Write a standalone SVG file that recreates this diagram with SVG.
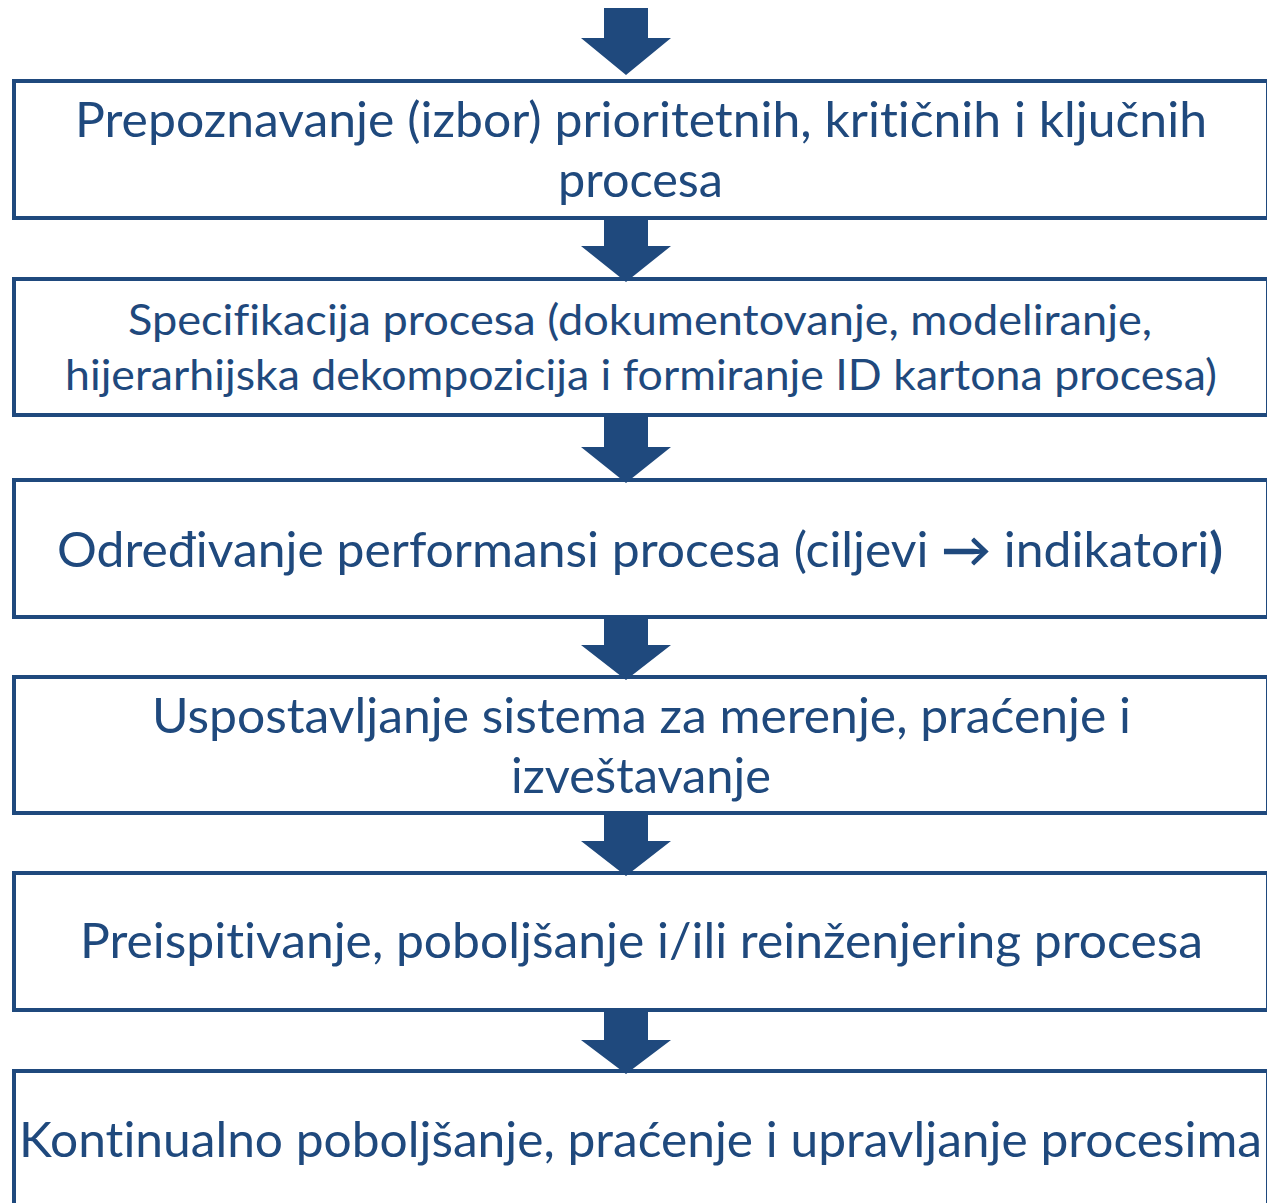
<svg xmlns="http://www.w3.org/2000/svg" width="1267" height="1203" viewBox="0 0 1267 1203">
<style>
.box{fill:#ffffff;stroke:#1F497D;stroke-width:4}
.arrow{fill:#1F497D}
.t{font-family:Lato,"Open Sans","Liberation Sans",sans-serif;fill:#1F497D;font-size:48px;font-variant-ligatures:none}
.s{font-size:43px}
</style>
<rect width="1267" height="1203" fill="#ffffff"/>
<g id="node1">
<rect class="box" x="14" y="81" width="1254" height="137"/>
<text class="t" x="75" y="137" textLength="1132" lengthAdjust="spacingAndGlyphs">Prepoznavanje (izbor) prioritetnih, kritičnih i ključnih</text>
<text class="t" x="558" y="197" textLength="165" lengthAdjust="spacingAndGlyphs">procesa</text>
</g>
<g id="node2">
<rect class="box" x="14" y="279" width="1254" height="136"/>
<text class="t s" x="128" y="335" textLength="1024" lengthAdjust="spacingAndGlyphs">Specifikacija procesa (dokumentovanje, modeliranje,</text>
<text class="t s" x="65" y="390" textLength="1152" lengthAdjust="spacingAndGlyphs">hijerarhijska dekompozicija i formiranje ID kartona procesa)</text>
</g>
<g id="node3">
<rect class="box" x="14" y="480" width="1254" height="137"/>
<text class="t" x="57" y="567" textLength="1166" lengthAdjust="spacingAndGlyphs">Određivanje performansi procesa (ciljevi <tspan font-weight="bold">→</tspan> indikatori<tspan font-weight="bold">)</tspan></text>
</g>
<g id="node4">
<rect class="box" x="14" y="677" width="1254" height="136"/>
<text class="t" x="152" y="733" textLength="979" lengthAdjust="spacingAndGlyphs">Uspostavljanje sistema za merenje, praćenje i</text>
<text class="t" x="511" y="793" textLength="260" lengthAdjust="spacingAndGlyphs">izveštavanje</text>
</g>
<g id="node5">
<rect class="box" x="14" y="873" width="1254" height="137"/>
<text class="t" x="80" y="958" textLength="1123" lengthAdjust="spacingAndGlyphs">Preispitivanje, poboljšanje i/ili reinženjering procesa</text>
</g>
<g id="node6">
<rect class="box" x="14" y="1071" width="1254" height="160"/>
<text class="t" x="19" y="1157" textLength="1243" lengthAdjust="spacingAndGlyphs">Kontinualno poboljšanje, praćenje i upravljanje procesima</text>
</g>
<g id="connectors">
<polygon class="arrow" points="604,8 648,8 648,38 671,38 626,75 581,38 604,38"/>
<polygon class="arrow" points="604,218 648,218 648,246 671,246 626,282 581,246 604,246"/>
<polygon class="arrow" points="604,415 648,415 648,447 671,447 626,483 581,447 604,447"/>
<polygon class="arrow" points="604,617 648,617 648,645 671,645 626,680 581,645 604,645"/>
<polygon class="arrow" points="604,813 648,813 648,841 671,841 626,876 581,841 604,841"/>
<polygon class="arrow" points="604,1010 648,1010 648,1040 671,1040 626,1074 581,1040 604,1040"/>
</g>
</svg>
